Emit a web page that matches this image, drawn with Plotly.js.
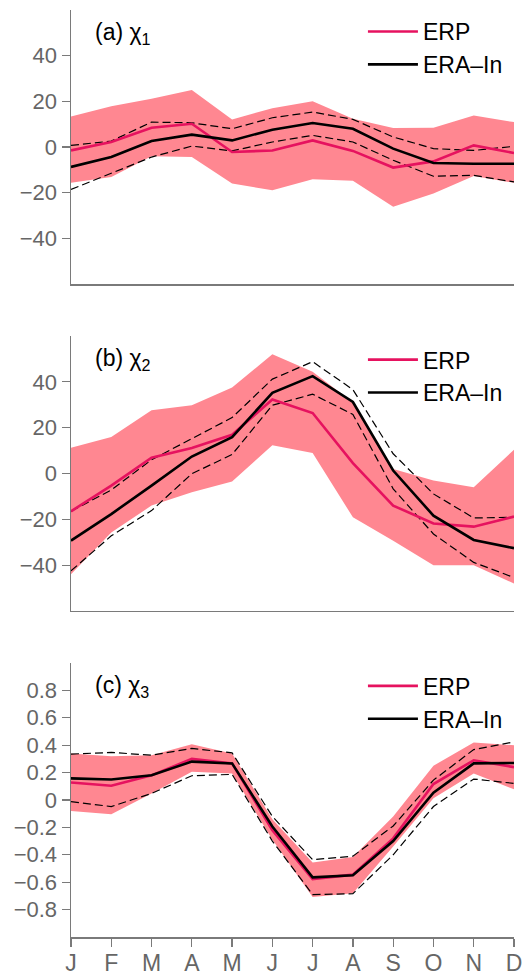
<!DOCTYPE html>
<html><head><meta charset="utf-8">
<script src="https://cdn.plot.ly/plotly-3.0.1.min.js"></script>
<style>html,body{margin:0;padding:0;background:#fff}</style>
</head><body><div id="chart" style="width:523px;height:975px"></div>
<script>
const months = ['J','F','M','A','M','J','J','A','S','O','N','D'];

// (a) chi_1
const a_erp    = [-1.5, 2.2, 8.4, 10.2, -2.2, -1.5, 2.9, -1.7, -9.0, -6.3, 0.7, -2.6];
const a_era    = [-8.7, -4.4, 2.6, 5.4, 2.9, 7.6, 10.5, 8.0, -0.7, -7.0, -7.3, -7.3];
const a_eraHi  = [0.7, 2.6, 10.9, 10.6, 8.0, 12.8, 15.3, 12.1, 4.4, -0.7, -1.5, 0.3];
const a_eraLo  = [-18.6, -11.6, -4.4, 0.4, -1.7, 2.2, 5.1, 2.2, -5.8, -12.8, -12.4, -15.3];
const a_erpHi  = [13.4, 17.8, 21.1, 25.0, 12.1, 17.0, 20.0, 12.4, 8.3, 8.4, 13.8, 10.9];
const a_erpLo  = [-15.7, -13.1, -4.1, -4.4, -16.0, -18.9, -14.1, -14.8, -26.2, -20.4, -12.7, -15.7];

// (b) chi_2
const b_erp    = [-16.5, -5.3, 6.9, 11.1, 16.9, 32.3, 26.4, 4.5, -14.0, -21.8, -23.2, -18.8];
const b_era    = [-29.3, -17.7, -5.3, 7.4, 15.9, 35.2, 42.5, 31.2, 1.3, -18.4, -29.0, -32.6];
const b_eraHi  = [-16.5, -7.2, 6.0, 15.2, 24.4, 41.2, 48.8, 36.6, 8.6, -8.9, -19.4, -19.1];
const b_eraLo  = [-42.5, -27.2, -16.2, -0.1, 8.3, 29.8, 34.6, 25.8, -6.7, -26.4, -38.8, -45.4];
const b_erpHi  = [11.2, 15.9, 27.6, 29.8, 37.5, 52.1, 44.4, 31.0, 2.0, -3.1, -6.0, 10.4];
const b_erpLo  = [-44.0, -25.7, -14.0, -8.2, -3.5, 12.3, 8.9, -19.1, -29.3, -40.0, -40.0, -48.0];

// (c) chi_3
const c_erp    = [0.128, 0.104, 0.18, 0.30, 0.267, -0.22, -0.577, -0.545, -0.28, 0.116, 0.29, 0.24];
const c_era    = [0.158, 0.15, 0.18, 0.28, 0.267, -0.194, -0.565, -0.55, -0.30, 0.053, 0.267, 0.27];
const c_eraHi  = [0.335, 0.347, 0.327, 0.376, 0.344, -0.12, -0.436, -0.41, -0.19, 0.145, 0.368, 0.424];
const c_eraLo  = [-0.012, -0.048, 0.048, 0.177, 0.187, -0.30, -0.69, -0.684, -0.40, -0.048, 0.153, 0.121];
const c_erpHi  = [0.34, 0.32, 0.327, 0.407, 0.34, -0.14, -0.456, -0.417, -0.12, 0.25, 0.42, 0.40];
const c_erpLo  = [-0.08, -0.104, 0.048, 0.206, 0.194, -0.29, -0.708, -0.68, -0.34, 0.012, 0.194, 0.078];

const ticks12 = [-40, -20, 0, 20, 40];
const ticks3 = [-0.8, -0.6, -0.4, -0.2, 0, 0.2, 0.4, 0.6, 0.8];
const ticks3Text = ['\u22120.8','\u22120.6','\u22120.4','\u22120.2','0','0.2','0.4','0.6','0.8'];

const x = months.map((m, i) => i);
const RED = '#E6125F';
const FILL = '#FF8791';
const FONT = 'Liberation Sans, Arial, Helvetica, sans-serif';

function panel(k, erp, era, eraHi, eraLo, erpHi, erpLo) {
  const xa = k === 1 ? 'x' : 'x' + k;
  const ya = k === 1 ? 'y' : 'y' + k;
  const lg = k === 1 ? 'legend' : 'legend' + k;
  return [
    {x, y: erpLo, xaxis: xa, yaxis: ya, mode: 'lines', line: {width: 0, color: FILL}, showlegend: false, hoverinfo: 'skip'},
    {x, y: erpHi, xaxis: xa, yaxis: ya, mode: 'lines', line: {width: 0, color: FILL}, fill: 'tonexty', fillcolor: FILL, showlegend: false, hoverinfo: 'skip'},
    {x, y: eraHi, xaxis: xa, yaxis: ya, mode: 'lines', line: {width: 1.2, color: '#000', dash: '8px,4px'}, showlegend: false},
    {x, y: eraLo, xaxis: xa, yaxis: ya, mode: 'lines', line: {width: 1.2, color: '#000', dash: '8px,4px'}, showlegend: false},
    {x, y: erp, xaxis: xa, yaxis: ya, mode: 'lines', name: 'ERP', line: {width: 2.6, color: RED}, legend: lg},
    {x, y: era, xaxis: xa, yaxis: ya, mode: 'lines', name: 'ERA\u2013In', line: {width: 2.6, color: '#000'}, legend: lg}
  ];
}

const data = [].concat(
  panel(1, a_erp, a_era, a_eraHi, a_eraLo, a_erpHi, a_erpLo),
  panel(2, b_erp, b_era, b_eraHi, b_eraLo, b_erpHi, b_erpLo),
  panel(3, c_erp, c_era, c_eraHi, c_eraLo, c_erpHi, c_erpLo)
);

const AX = '#7a7a7a';
const TICKC = '#666666';
function xaxis(showLabels, anchor) {
  return {
    range: [0, 11], anchor, showgrid: false, zeroline: false,
    showline: true, linecolor: AX, linewidth: 1.5,
    tickmode: 'array', tickvals: x, ticktext: months,
    ticks: showLabels ? 'outside' : '', ticklen: 8, tickcolor: AX, tickwidth: 1.2,
    showticklabels: showLabels, ticklabelstandoff: -3,
    tickfont: {family: FONT, size: 23, color: TICKC}
  };
}
function yaxis(domain, range, tv, tt, anchor) {
  const o = {
    domain, range, anchor, showgrid: false, zeroline: false,
    showline: true, linecolor: AX, linewidth: 1.5,
    tickmode: 'array', tickvals: tv,
    ticks: 'outside', ticklen: 8, tickcolor: AX, tickwidth: 1.2,
    tickfont: {family: FONT, size: 22, color: TICKC}
  };
  if (tt) o.ticktext = tt;
  return o;
}
const legendBase = (y) => ({
  x: 0.659, y, xanchor: 'left', yanchor: 'top', bgcolor: 'rgba(0,0,0,0)',
  traceorder: 'normal',
  font: {family: FONT, size: 23, color: '#000'}, itemwidth: 50, tracegroupgap: 0
});
function label(txt, xa, ya) {
  return {text: txt, xref: xa + ' domain', yref: ya + ' domain', x: 0.05, y: 0.915,
    xanchor: 'left', yanchor: 'middle', showarrow: false,
    font: {family: FONT, size: 23, color: '#000'}};
}

const layout = {
  width: 523, height: 975,
  margin: {l: 71, r: 9, t: 10, b: 38},
  paper_bgcolor: '#fff', plot_bgcolor: '#fff',
  font: {family: FONT},
  xaxis: xaxis(false, 'y'),
  xaxis2: xaxis(false, 'y2'),
  xaxis3: xaxis(true, 'y3'),
  yaxis: yaxis([0.7044, 1.0], [-60, 60], ticks12, null, 'x'),
  yaxis2: yaxis([0.3517, 0.6483], [-60, 60], ticks12, null, 'x2'),
  yaxis3: yaxis([0, 0.2956], [-1, 1], ticks3, ticks3Text, 'x3'),
  legend: legendBase(1.0),
  legend2: legendBase(0.646),
  legend3: legendBase(0.294),
  annotations: [
    label('(a) \u03c7<sub>1</sub>', 'x', 'y'),
    label('(b) \u03c7<sub>2</sub>', 'x2', 'y2'),
    label('(c) \u03c7<sub>3</sub>', 'x3', 'y3')
  ],
  showlegend: true
};

Plotly.newPlot('chart', data, layout, {staticPlot: true, displayModeBar: false});
</script>
</body></html>
